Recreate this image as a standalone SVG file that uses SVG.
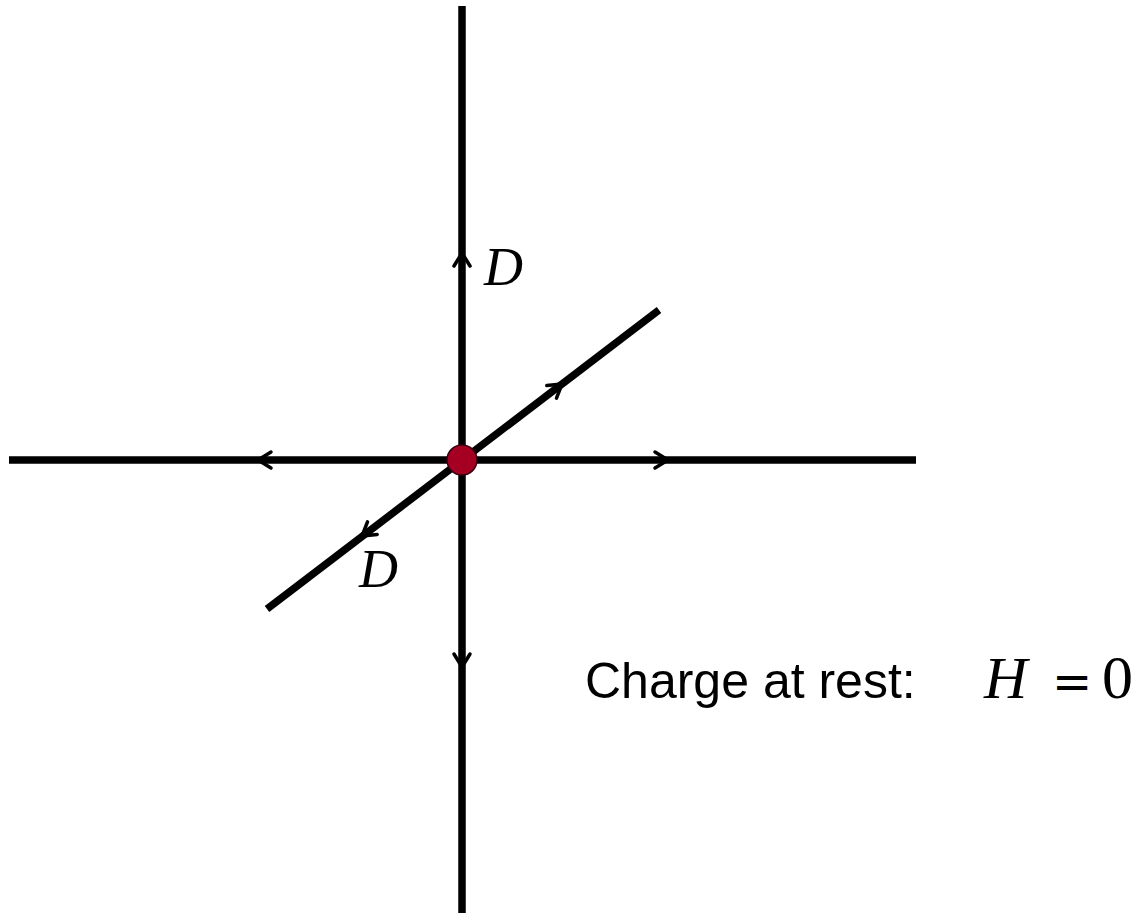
<svg xmlns="http://www.w3.org/2000/svg" width="1142" height="913" viewBox="0 0 1142 913">
<style>
.ax{stroke:#000;stroke-width:7.5;fill:none;stroke-linecap:butt}
.ah{stroke:#000;stroke-width:3.5;fill:none;stroke-linecap:round;stroke-linejoin:round}
.m{font-family:"Liberation Serif",serif;font-style:italic;fill:#000}
.r{font-family:"Liberation Serif",serif;fill:#000}
.t{font-family:"Liberation Sans",Arial,sans-serif;fill:#000}
</style>
<rect width="1142" height="913" fill="#fff"/>
<g id="connectors">
<line class="ax" x1="462" y1="6" x2="462" y2="913"/>
<line class="ax" x1="9" y1="460" x2="916" y2="460"/>
<line class="ax" x1="267" y1="609" x2="659" y2="310"/>
<polyline class="ah" points="454,266 462,253 470,266"/>
<polyline class="ah" points="454,654 462,667 470,654"/>
<polyline class="ah" points="271,452 258,460 271,468"/>
<polyline class="ah" points="655,452 668,460 655,468"/>
<g transform="translate(562,384) rotate(-37.3)"><polyline class="ah" points="-13,-8 0,0 -13,8"/></g>
<g transform="translate(362,536) rotate(142.7)"><polyline class="ah" points="-13,-8 0,0 -13,8"/></g>
</g>
<g id="charge">
<circle cx="462" cy="460" r="15" fill="#a50021" stroke="#3a0010" stroke-width="1.5"/>
</g>
<g id="labels">
<text class="m" x="484" y="285" font-size="54">D</text>
<text class="m" x="359" y="587" font-size="54">D</text>
<text class="t" x="585" y="698" font-size="50">Charge at rest:</text>
<text class="m" x="984" y="698" font-size="60">H</text>
<text x="1052" y="698" font-size="48" font-family="DejaVu Sans,sans-serif" fill="#000">=</text>
<text class="r" x="1102" y="698" font-size="62">0</text>
</g>
</svg>
